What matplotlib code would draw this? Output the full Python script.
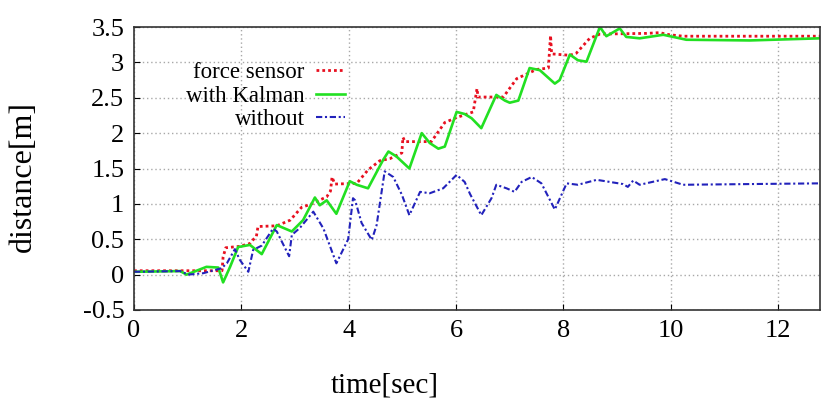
import numpy as np
import matplotlib
matplotlib.use('Agg')
import matplotlib.pyplot as plt

# ---------------------------------------------------------------
# DATA
# ---------------------------------------------------------------

t_force = [0.0, 1.64, 1.66, 1.71, 1.97, 2.16, 2.25, 2.28, 2.31, 2.66, 2.91, 3.12, 3.31,
           3.59, 3.66, 3.69, 3.74, 4.15, 4.36, 4.58, 4.77, 4.99, 5.01, 5.05, 5.54, 5.79,
           6.01, 6.32, 6.39, 6.41, 6.88, 7.13, 7.50, 7.72, 7.76, 7.78, 8.12, 8.24, 8.49,
           8.68, 9.55, 9.79, 9.98, 10.23, 12.78]
d_force = [0.055, 0.055, 0.25, 0.38, 0.40, 0.44, 0.52, 0.54, 0.68, 0.69, 0.77, 0.95, 1.0,
           1.10, 1.18, 1.38, 1.28, 1.29, 1.48, 1.61, 1.64, 1.72, 1.94, 1.88, 1.88, 2.15,
           2.22, 2.30, 2.63, 2.51, 2.51, 2.77, 2.90, 2.92, 3.38, 3.12, 3.10, 3.13, 3.34,
           3.40, 3.41, 3.42, 3.39, 3.37, 3.37]

t_kalman = [0.0, 0.86, 0.98, 1.35, 1.57, 1.66, 1.79, 1.94, 2.16, 2.38, 2.66, 2.94, 3.15,
            3.37, 3.46, 3.59, 3.77, 4.02, 4.15, 4.36, 4.64, 4.74, 4.89, 5.13, 5.36, 5.51,
            5.67, 5.79, 6.01, 6.16, 6.29, 6.47, 6.75, 6.91, 7.00, 7.16, 7.37, 7.56, 7.84,
            7.93, 8.12, 8.27, 8.43, 8.68, 8.80, 9.05, 9.17, 9.42, 9.86, 10.29, 11.47, 12.78]
d_kalman = [0.04, 0.05, 0.0, 0.11, 0.10, -0.11, 0.11, 0.39, 0.42, 0.29, 0.70, 0.61, 0.77,
            1.09, 0.98, 1.05, 0.86, 1.32, 1.27, 1.22, 1.62, 1.74, 1.67, 1.50, 2.0, 1.86,
            1.78, 1.81, 2.30, 2.27, 2.21, 2.07, 2.54, 2.46, 2.43, 2.46, 2.92, 2.89, 2.70,
            2.75, 3.11, 3.03, 3.01, 3.50, 3.37, 3.48, 3.36, 3.34, 3.39, 3.32, 3.31, 3.34]

t_without = [0.0, 0.86, 1.01, 1.29, 1.63, 1.73, 1.88, 1.97, 2.13, 2.22, 2.38, 2.59, 2.66,
             2.89, 2.94, 3.09, 3.34, 3.53, 3.77, 3.99, 4.08, 4.12, 4.24, 4.43, 4.52, 4.67,
             4.83, 4.99, 5.13, 5.33, 5.51, 5.76, 6.01, 6.16, 6.26, 6.47, 6.66, 6.75, 6.94,
             7.09, 7.22, 7.41, 7.59, 7.84, 8.06, 8.27, 8.62, 9.11, 9.20, 9.30, 9.42, 9.89,
             10.23, 11.47, 12.78]
d_without = [0.04, 0.05, 0.0, 0.02, 0.09, 0.16, 0.36, 0.21, 0.04, 0.35, 0.41, 0.65, 0.61,
             0.26, 0.56, 0.66, 0.89, 0.65, 0.16, 0.50, 1.08, 1.05, 0.73, 0.49, 0.70, 1.46,
             1.38, 1.13, 0.84, 1.17, 1.15, 1.22, 1.41, 1.31, 1.14, 0.84, 1.08, 1.27, 1.22,
             1.17, 1.31, 1.38, 1.29, 0.92, 1.29, 1.27, 1.34, 1.28, 1.24, 1.33, 1.27, 1.35,
             1.27, 1.28, 1.29]

labels = ['force sensor', 'with Kalman', 'without']
x_ticks = [0, 2, 4, 6, 8, 10, 12]
y_ticks = [-0.5, 0, 0.5, 1, 1.5, 2, 2.5, 3, 3.5]
y_ticklabels = ['-0.5', '0', '0.5', '1', '1.5', '2', '2.5', '3', '3.5']

# ---------------------------------------------------------------
# PLOT
# ---------------------------------------------------------------

plt.rcParams['font.family'] = ['Liberation Serif', 'DejaVu Serif']

fig = plt.figure(figsize=(8.21, 4.03), dpi=100)
ax = fig.add_axes([134/821, 1 - 310/403, 686/821, 283/403])

ax.plot(t_force, d_force, color='#e81020', lw=2.0, ls=(0, (1, 1.1)), label=labels[0])
ax.plot(t_kalman, d_kalman, color='#22e022', lw=1.9, ls='-', label=labels[1])
ax.plot(t_without, d_without, color='#2222bb', lw=1.5, ls=(0, (3, 1.3, 1, 1.3)), label=labels[2])

ax.set_xlim(0, 12.78)
ax.set_ylim(-0.5, 3.5)
ax.set_xticks(x_ticks)
ax.set_yticks(y_ticks)
ax.set_yticklabels(y_ticklabels)

ax.grid(True, color='#a8a8a8', ls=(0, (1, 2)), lw=1.0)
ax.tick_params(direction='in', length=4, width=0.8, labelsize=19, pad=7)
for s in ax.spines.values():
    s.set_linewidth(1.2)
    s.set_color('#333333')

ax.set_xlabel('time[sec]', fontsize=21)
ax.set_ylabel('distance[m]', fontsize=23)
ax.xaxis.set_label_coords(0.366, -0.22)
ax.yaxis.set_label_coords(-0.14, 0.47)

leg = ax.legend(loc='upper right', bbox_to_anchor=(0.307, 0.875), frameon=False,
                markerfirst=False, fontsize=16.5, handlelength=1.25, handletextpad=0.5,
                labelspacing=0.1, borderpad=0, borderaxespad=0)

fig.savefig('out.png', dpi=100)
